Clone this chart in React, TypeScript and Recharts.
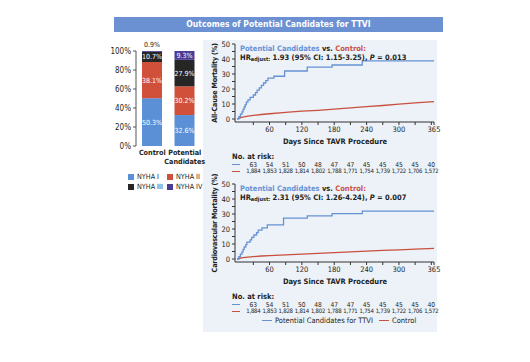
import React from 'react'
import { Bar, BarChart, ComposedChart, LabelList, Line, XAxis, YAxis } from 'recharts'

const FONT = "'Liberation Sans Narrow', 'DejaVu Sans Condensed', 'Roboto', sans-serif"
const INK = '#231f20'
const BLUE = '#6692d4'
const RED = '#c9503c'

// NYHA class distribution (%)
const groups = ['Control', 'Potential Candidates']
const nyhaI = [50.3, 32.6]
const nyhaII = [38.1, 30.2]
const nyhaIII = [10.7, 27.9]
const nyhaIV = [0.9, 9.3]
const nyhaColors = ['#5b8fd6', '#d1503a', '#262626', '#4a3b94']
const nyhaNames = ['NYHA I', 'NYHA II', 'NYHA III', 'NYHA IV']

// Kaplan-Meier curves, [day, %]
const allCauseCandidates = [
    [0, 0], [3, 1.6], [6, 3.2], [9, 4.8], [11, 6.4], [13, 8.0], [15, 9.6], [17, 11.2], [20, 12.8],
    [24, 14.4], [30, 16.0], [34, 17.6], [37, 19.2], [41, 20.8], [45, 22.4], [49, 24.0], [53, 25.6],
    [57, 27.2], [68, 28.5], [88, 32.0], [130, 34.6], [176, 36.0], [232, 38.8], [365, 38.8],
]
const allCauseControl = [
    [0, 0], [5, 0.8], [10, 1.3], [20, 1.9], [30, 2.4], [45, 3.0], [60, 3.5], [90, 4.4], [120, 5.2],
    [150, 5.8], [180, 6.6], [210, 7.4], [240, 8.3], [270, 9.0], [300, 9.9], [330, 10.7], [365, 11.6],
]
const cvCandidates = [
    [0, 0], [3, 1.6], [6, 3.2], [9, 4.8], [11, 6.4], [13, 8.0], [16, 9.6], [18, 11.2], [24, 12.8],
    [27, 14.4], [31, 16.0], [36, 17.6], [39, 19.2], [46, 20.8], [56, 22.8], [86, 27.2], [130, 28.8],
    [176, 30.2], [232, 31.9], [365, 31.9],
]
const cvControl = [
    [0, 0], [5, 0.5], [10, 0.9], [20, 1.3], [30, 1.6], [45, 2.0], [60, 2.3], [90, 2.8], [120, 3.3],
    [150, 3.7], [180, 4.2], [210, 4.7], [240, 5.2], [270, 5.7], [300, 6.1], [330, 6.6], [365, 7.1],
]

const dayTicks = [30, 60, 90, 120, 150, 180, 210, 240, 270, 300, 330, 360, 365]
const dayLabels = [60, 120, 180, 240, 300, 365]
const yTicks = [0, 5, 10, 15, 20, 25, 30, 35, 40, 45, 50]
const riskDays = [30, 60, 90, 120, 150, 180, 210, 240, 270, 300, 330, 360]
const riskCandidates = [63, 54, 51, 50, 48, 47, 47, 45, 45, 45, 45, 40]
const riskControl = [1884, 1853, 1828, 1814, 1802, 1788, 1771, 1754, 1739, 1722, 1706, 1572]

const toPoints = (arr) => arr.map(([d, v]) => ({ d, v }))

const barRows = groups.map((g, i) => ({
    group: g,
    n1: nyhaI[i],
    n2: nyhaII[i],
    n3: nyhaIII[i],
    n4: nyhaIV[i],
}))

const GroupTick = ({ x, y, payload }) =>
{
    const words = payload.value === 'Control' ? ['Control'] : ['Potential', 'Candidates']
    return (
        <text x={x} y={y} textAnchor="middle" fontSize={7.2} fontWeight={600} fill={INK} fontFamily={FONT}>
            {words.map((w, i) => (
                <tspan key={w} x={x} dy={i === 0 ? '0.71em' : 9}>{w}</tspan>
            ))}
        </text>
    )
}

// day labels on the axis, numbers at risk in two rows below
const DayTick = ({ x, y, payload }) =>
{
    const v = payload.value
    const idx = riskDays.indexOf(v)
    const t = { textAnchor: 'middle', fill: INK, fontFamily: FONT }
    return (
        <g>
            {dayLabels.includes(v) && <text x={x} y={y} dy="0.71em" fontSize={7.5} {...t}>{v}</text>}
            {idx >= 0 && <text x={x} y={y + 35} dy="0.71em" fontSize={6.6} {...t}>{riskCandidates[idx]}</text>}
            {idx >= 0 && (
                <text x={x} y={y + 42} dy="0.71em" fontSize={6} letterSpacing={-0.25} {...t}>
                    {riskControl[idx].toLocaleString('en-US')}
                </text>
            )}
        </g>
    )
}

const segLabel = (props) =>
{
    const { x, y, width, height, value } = props
    if (height < 5)
    {
        return (
            <text x={x + width / 2} y={y - 4} textAnchor="middle" fontSize={7} fill={INK} fontFamily={FONT}>
                {value}%
            </text>
        )
    }
    return (
        <text x={x + width / 2} y={y + height / 2 + 2.5} textAnchor="middle" fontSize={7} fill="#fff" fontFamily={FONT}>
            {value}%
        </text>
    )
}

const abs = (left, top, extra = {}) => ({ position: 'absolute', left, top, ...extra })

const KmPanel = ({ top, yLabel, candidates, control, hr, ci, p }) =>
{
    const axisText = { fontSize: 7.5, fill: INK, fontFamily: FONT }
    return (
        <>
            <div style={abs(214, top + 47, {
                transform: 'translate(-50%, -50%) rotate(-90deg)', whiteSpace: 'nowrap',
                fontSize: 7.2, fontWeight: 700, letterSpacing: -0.2,
            })}>{yLabel}</div>
            <ComposedChart
                width={245}
                height={143}
                margin={{ top: 8, right: 11, bottom: 2, left: 0 }}
                style={{ position: 'absolute', left: 200, top }}
            >
                <XAxis type="number" dataKey="d" domain={[-4, 365]} ticks={dayTicks} tick={<DayTick />}
                    height={55} tickSize={3} tickMargin={2} interval={0}
                    axisLine={{ stroke: '#333' }} tickLine={{ stroke: '#333' }} />
                <YAxis type="number" domain={[-2, 50]} ticks={yTicks}
                    tickFormatter={(v) => (v % 10 === 0 ? String(v) : '')}
                    width={35} tickSize={3} tickMargin={2} interval={0}
                    axisLine={{ stroke: '#333' }} tickLine={{ stroke: '#333' }} tick={axisText} />
                <Line data={toPoints(control)} dataKey="v" type="linear" stroke={RED}
                    strokeWidth={1.3} dot={false} isAnimationActive={false} />
                <Line data={toPoints(candidates)} dataKey="v" type="stepAfter" stroke={BLUE}
                    strokeWidth={1.3} dot={false} isAnimationActive={false} />
            </ComposedChart>
            <div style={abs(240, top + 8, { fontSize: 7.5, fontWeight: 700, whiteSpace: 'nowrap', lineHeight: '9px' })}>
                <span style={{ color: BLUE }}>Potential Candidates</span> vs. <span style={{ color: RED }}>Control:</span>
                <br />
                HR<sub style={{ fontSize: 5.5, verticalAlign: '-1px' }}>adjust:</sub> {hr} (95% CI: {ci}), <i>P</i> = {p}
            </div>
            <div style={abs(335, top + 101, { transform: 'translateX(-50%)', fontSize: 7.5, fontWeight: 700, whiteSpace: 'nowrap' })}>
                Days Since TAVR Procedure
            </div>
            <div style={abs(232, top + 116, { fontSize: 7.5, fontWeight: 700, whiteSpace: 'nowrap' })}>No. at risk:</div>
            <div style={abs(232, top + 128, { width: 8, height: 1.2, background: BLUE })} />
            <div style={abs(232, top + 135, { width: 8, height: 1.2, background: RED })} />
        </>
    )
}

const App = () =>
{
    return (
        <div style={{ position: 'absolute', left: 0, top: 0, width: 530, height: 362, background: '#fff', fontFamily: FONT, color: INK }}>
            <div style={abs(114, 17, {
                width: 329, height: 15, background: '#6b91d2', color: '#fff', fontSize: 8.5, fontWeight: 700,
                textAlign: 'center', lineHeight: '15px',
            })}>Outcomes of Potential Candidates for TTVI</div>
            <div style={abs(203, 40, { width: 234, height: 292, background: '#edf1f8' })} />

            <BarChart width={112} height={140} data={barRows} margin={{ top: 11, right: 11, bottom: 8, left: 0 }}
                barSize={20} style={{ position: 'absolute', left: 100, top: 40 }}>
                <XAxis dataKey="group" tick={<GroupTick />} axisLine={false} tickLine={false} height={26}
                    tickSize={0} tickMargin={4} interval={0} />
                <YAxis type="number" domain={[0, 100]} ticks={[0, 20, 40, 60, 80, 100]} tickFormatter={(v) => v + '%'}
                    width={36} tickSize={3} tickMargin={2} axisLine={{ stroke: '#555' }} tickLine={{ stroke: '#555' }}
                    tick={{ fontSize: 8, fill: INK, fontFamily: FONT }} />
                {['n1', 'n2', 'n3', 'n4'].map((k, i) => (
                    <Bar key={k} dataKey={k} stackId="a" fill={nyhaColors[i]} isAnimationActive={false}>
                        <LabelList dataKey={k} content={segLabel} />
                    </Bar>
                ))}
            </BarChart>
            {nyhaNames.map((n, i) => (
                <div key={n} style={abs(i % 2 === 0 ? 128 : 167, i < 2 ? 172 : 182, {
                    width: 38, height: 9, display: 'flex', alignItems: 'center', fontSize: 7.2, whiteSpace: 'nowrap',
                })}>
                    <span style={{ display: 'inline-block', flex: '0 0 6px', width: 6, height: 6, background: nyhaColors[i], marginRight: 3 }} />
                    <span>{n}</span>
                </div>
            ))}

            <KmPanel top={36} yLabel="All-Cause Mortality (%)" candidates={allCauseCandidates} control={allCauseControl}
                hr="1.93" ci="1.15-3.25" p="0.013" />
            <KmPanel top={176} yLabel="Cardiovascular Mortality (%)" candidates={cvCandidates} control={cvControl}
                hr="2.31" ci="1.26-4.24" p="0.007" />

            <div style={abs(262, 316, { display: 'flex', alignItems: 'center', fontSize: 7.5, whiteSpace: 'nowrap' })}>
                <span style={{ display: 'inline-block', width: 10, height: 1.2, background: BLUE, marginRight: 3 }} />
                Potential Candidates for TTVI
                <span style={{ display: 'inline-block', width: 10, height: 1.2, background: RED, margin: '0 3px 0 6px' }} />
                Control
            </div>
        </div>
    )
}

export default App
